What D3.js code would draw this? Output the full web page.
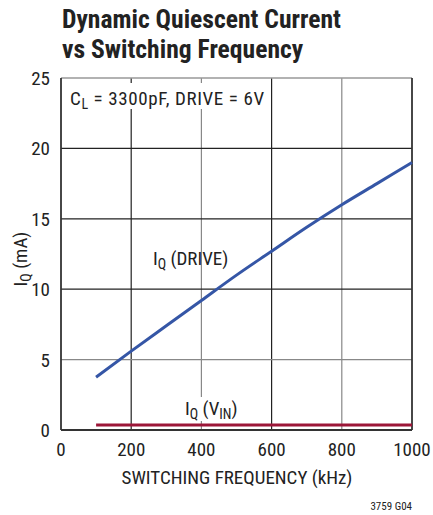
<!DOCTYPE html>
<html><head><meta charset="utf-8">
<script src="https://cdn.jsdelivr.net/npm/d3@7"></script>
<style>
body{margin:0;background:#fff;}
text{font-family:"Liberation Sans Narrow","Roboto Condensed","Liberation Sans",sans-serif;fill:#222;}
</style></head>
<body><svg id="c" width="433" height="515"></svg>
<script>
const xTicks = [0, 200, 400, 600, 800, 1000];
const yTicks = [0, 5, 10, 15, 20, 25];
const freq = [100, 200, 300, 400, 500, 600, 700, 800, 900, 1000];
const iqDrive = [3.75, 5.6, 7.4, 9.2, 11.0, 12.7, 14.4, 16.0, 17.5, 19.0];
const iqVin = [0.35, 0.35, 0.35, 0.35, 0.35, 0.35, 0.35, 0.35, 0.35, 0.35];

const svg = d3.select("#c");
const L = 61, R = 412, T = 78, B = 430;
const x = d3.scaleLinear().domain([0, 1000]).range([L, R]);
const y = d3.scaleLinear().domain([0, 25]).range([B, T]);
const FS = 19, SUB = 14;

// title
svg.append("text").attr("x", 62).attr("y", 28).attr("font-size", 25.6).attr("font-weight", "bold").attr("fill", "#231f20").text("Dynamic Quiescent Current");
svg.append("text").attr("x", 62).attr("y", 58).attr("font-size", 25.6).attr("font-weight", "bold").attr("fill", "#231f20").text("vs Switching Frequency");

// grid
const darkX = new Set([200, 600]);
const darkY = new Set([10, 15, 20]);
svg.append("g").selectAll("line").data(xTicks.slice(1, -1)).join("line")
  .attr("x1", d => x(d)).attr("x2", d => x(d)).attr("y1", T).attr("y2", B)
  .attr("stroke", d => darkX.has(d) ? "#222" : "#888").attr("stroke-width", 1.2);
svg.append("g").selectAll("line").data(yTicks.slice(1, -1)).join("line")
  .attr("x1", L).attr("x2", R).attr("y1", d => y(d)).attr("y2", d => y(d))
  .attr("stroke", d => darkY.has(d) ? "#222" : "#888").attr("stroke-width", 1.2);

// frame
svg.append("line").attr("x1", L).attr("x2", R).attr("y1", T).attr("y2", T).attr("stroke", "#999").attr("stroke-width", 1.5);
svg.append("line").attr("x1", L).attr("x2", L).attr("y1", T).attr("y2", B).attr("stroke", "#333").attr("stroke-width", 1.8);
svg.append("line").attr("x1", R).attr("x2", R).attr("y1", T).attr("y2", B).attr("stroke", "#333").attr("stroke-width", 1.8);
svg.append("line").attr("x1", L).attr("x2", R).attr("y1", B).attr("y2", B).attr("stroke", "#333").attr("stroke-width", 1.8);

// annotation box
svg.append("rect").attr("x", 64).attr("y", 83).attr("width", 202).attr("height", 26).attr("fill", "#fff");
const ann = svg.append("text").attr("x", 70).attr("y", 105).attr("font-size", FS).attr("letter-spacing", 0.6);
ann.append("tspan").text("C");
ann.append("tspan").attr("font-size", SUB).attr("dy", 4).text("L");
ann.append("tspan").attr("dy", -4).text(" = 3300pF, DRIVE = 6V");

// lines
const line = d3.line().x(d => x(d[0])).y(d => y(d[1])).curve(d3.curveMonotoneX);
svg.append("path").datum(freq.map((f, i) => [f, iqVin[i]])).attr("d", line)
  .attr("fill", "none").attr("stroke", "#9c1638").attr("stroke-width", 3);
svg.append("path").datum(freq.map((f, i) => [f, iqDrive[i]])).attr("d", line)
  .attr("fill", "none").attr("stroke", "#3556a6").attr("stroke-width", 3);

// curve labels
const l1 = svg.append("text").attr("x", 153).attr("y", 265).attr("font-size", FS);
l1.append("tspan").text("I");
l1.append("tspan").attr("font-size", SUB).attr("dy", 4).text("Q");
l1.append("tspan").attr("dy", -4).text(" (DRIVE)");

svg.append("rect").attr("x", 183).attr("y", 397).attr("width", 70).attr("height", 24).attr("fill", "#fff");
const l2 = svg.append("text").attr("x", 185).attr("y", 415).attr("font-size", FS);
l2.append("tspan").text("I");
l2.append("tspan").attr("font-size", SUB).attr("dy", 4).text("Q");
l2.append("tspan").attr("dy", -4).text(" (V");
l2.append("tspan").attr("font-size", SUB).attr("dy", 4).text("IN");
l2.append("tspan").attr("dy", -4).text(")");

// ticks labels
svg.append("g").selectAll("text").data(xTicks).join("text")
  .attr("x", d => x(d)).attr("y", 456).attr("text-anchor", "middle").attr("font-size", FS).text(d => d);
svg.append("g").selectAll("text").data(yTicks).join("text")
  .attr("x", 50).attr("y", d => y(d) + 7).attr("text-anchor", "end").attr("font-size", FS).text(d => d);

// axis titles
svg.append("text").attr("x", 237).attr("y", 484).attr("text-anchor", "middle").attr("font-size", FS).text("SWITCHING FREQUENCY (kHz)");
const yt = svg.append("text").attr("transform", "translate(27,259) rotate(-90)").attr("text-anchor", "middle").attr("font-size", FS);
yt.append("tspan").text("I");
yt.append("tspan").attr("font-size", SUB).attr("dy", 4).text("Q");
yt.append("tspan").attr("dy", -4).text(" (mA)");

svg.append("text").attr("x", 412).attr("y", 510).attr("text-anchor", "end").attr("font-size", 11).text("3759 G04");
</script></body></html>
